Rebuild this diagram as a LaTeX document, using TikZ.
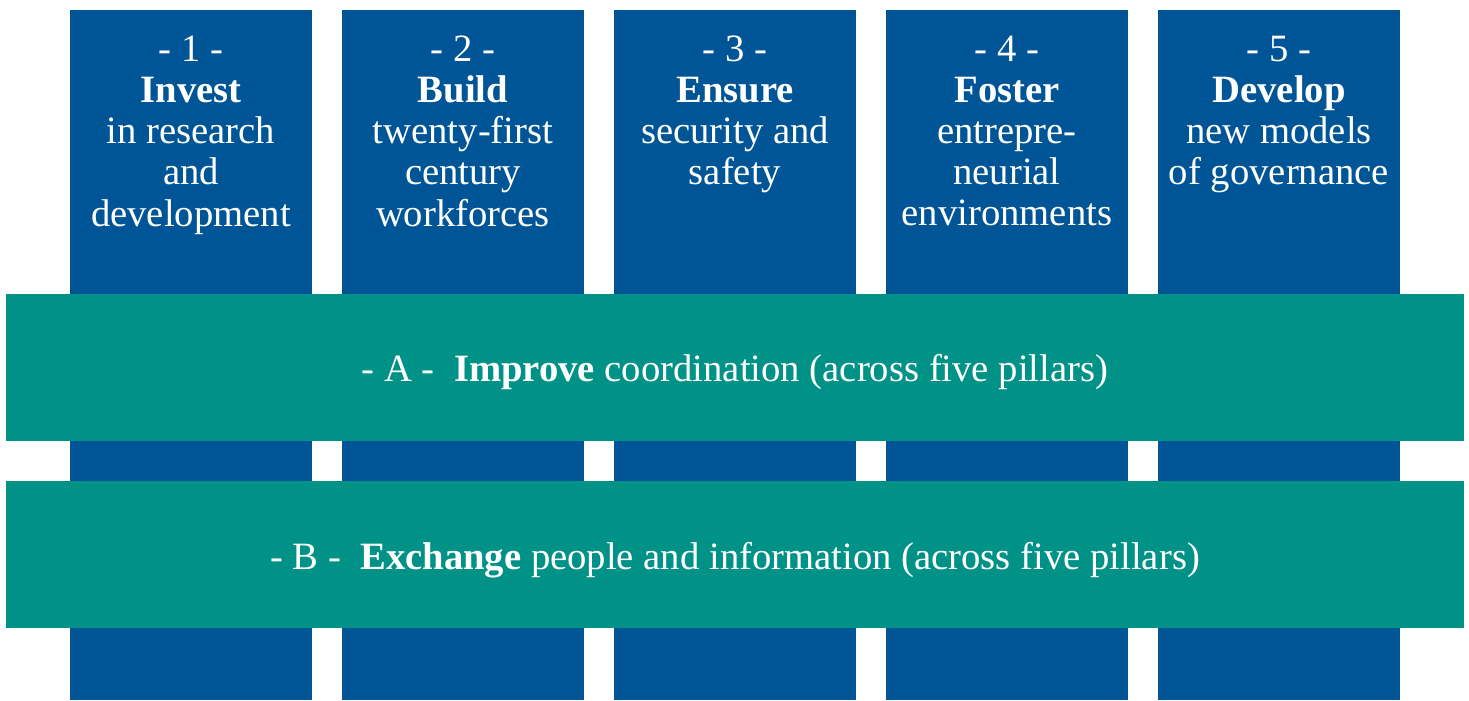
\documentclass[tikz,border=0pt]{standalone}
\usepackage{fontspec}
\setmainfont{Liberation Serif}
\usetikzlibrary{positioning}
\definecolor{pillarblue}{RGB}{0,85,150}
\definecolor{bandteal}{RGB}{0,146,135}

\begin{document}
\begin{tikzpicture}[
    pillar/.style={fill=pillarblue,minimum width=2.42cm,minimum height=6.9cm,inner sep=0pt},
    pillartext/.style={text=white,align=center,font=\fontsize{11}{11.7}\selectfont,anchor=north,inner sep=0pt},
    band/.style={fill=bandteal,text=white,minimum width=14.58cm,minimum height=1.47cm,inner sep=0pt,
        text height=0.34cm,text depth=0.05cm,font=\fontsize{11}{13}\selectfont}]
    \useasboundingbox (0,0) rectangle (14.69,7);

    % the five pillars
    \node[pillar] (p1) at (1.91,3.45)  {};
    \node[pillar] (p2) at (4.63,3.45)  {};
    \node[pillar] (p3) at (7.35,3.45)  {};
    \node[pillar] (p4) at (10.07,3.45) {};
    \node[pillar] (p5) at (12.79,3.45) {};

    \node[pillartext] (t1) at ([yshift=-0.26cm]p1.north) {- 1 -\\\textbf{Invest}\\in research\\and\\development};
    \node[pillartext] (t2) at ([yshift=-0.26cm]p2.north) {- 2 -\\\textbf{Build}\\twenty-first\\century\\workforces};
    \node[pillartext] (t3) at ([yshift=-0.26cm]p3.north) {- 3 -\\\textbf{Ensure}\\security and\\safety};
    \node[pillartext] (t4) at ([yshift=-0.26cm]p4.north) {- 4 -\\\textbf{Foster}\\entrepre-\\neurial\\environments};
    \node[pillartext] (t5) at ([yshift=-0.26cm]p5.north) {- 5 -\\\textbf{Develop}\\new models\\of governance};

    % the two bands across them
    \node[band] (ba) at (7.35,3.33)  {- A -~~\textbf{Improve} coordination (across five pillars)};
    \node[band] (bb) at (7.35,1.455) {- B -~~\textbf{Exchange} people and information (across five pillars)};
\end{tikzpicture}
\end{document}
